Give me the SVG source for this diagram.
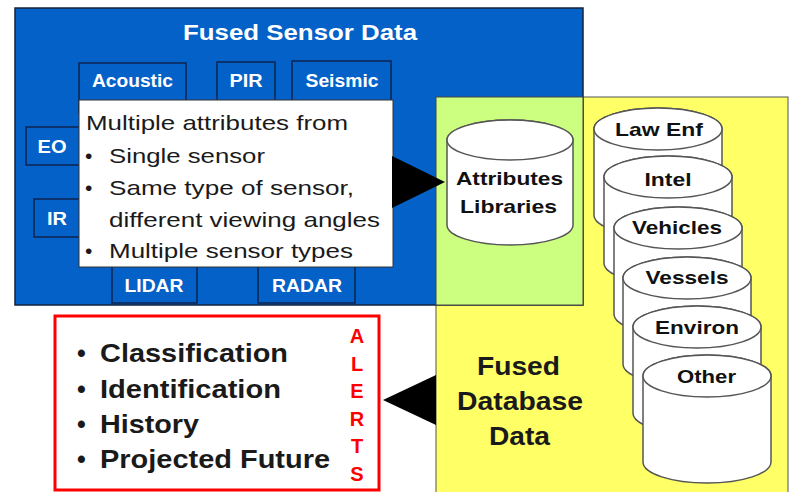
<svg xmlns="http://www.w3.org/2000/svg" width="789" height="492" viewBox="0 0 789 492">
<style>
.sens{fill:#0461C8;stroke:#0d2550;stroke-width:1.5}
.sl{font-family:"Liberation Sans",Arial,sans-serif;font-weight:bold;font-size:18px;fill:#ffffff;text-anchor:middle}
.wt{font-family:"Liberation Sans",Arial,sans-serif;font-size:21px;fill:#1a1a1a}
.cyl{fill:#ffffff;stroke:#555555;stroke-width:1.5}
.cl{font-family:"Liberation Sans",Arial,sans-serif;font-weight:bold;font-size:19px;fill:#111111;text-anchor:middle}
.big{font-family:"Liberation Sans",Arial,sans-serif;font-weight:bold;font-size:25px;fill:#1a1a1a}
.al{font-family:"Liberation Sans",Arial,sans-serif;font-weight:bold;font-size:20px;fill:#ff0000;text-anchor:middle}
</style>
<rect width="789" height="492" fill="#ffffff"/>
<g id="fused-database">
<rect x="436" y="97" width="352" height="400" fill="#FFFF66" stroke="#555555" stroke-width="1"/>
</g>
<g id="fused-sensor-data">
<rect x="15" y="8" width="568" height="297" fill="#0461C8" stroke="#14233f" stroke-width="1.5"/>
<text x="183" y="40" font-family="Liberation Sans, Arial, sans-serif" font-weight="bold" font-size="22" fill="#ffffff" textLength="234" lengthAdjust="spacingAndGlyphs">Fused Sensor Data</text>
</g>
<g id="overlap">
<rect x="436" y="97" width="147" height="208" fill="#CCFF80" stroke="#444444" stroke-width="1"/>
</g>
<g id="sensor-acoustic"><rect class="sens" x="79" y="63" width="107" height="50"/><text class="sl" x="132.5" y="87" textLength="81" lengthAdjust="spacingAndGlyphs">Acoustic</text></g>
<g id="sensor-pir"><rect class="sens" x="217" y="62" width="58" height="50"/><text class="sl" x="246" y="87" textLength="33" lengthAdjust="spacingAndGlyphs">PIR</text></g>
<g id="sensor-seismic"><rect class="sens" x="292" y="61" width="99" height="50"/><text class="sl" x="342" y="87" textLength="73" lengthAdjust="spacingAndGlyphs">Seismic</text></g>
<g id="sensor-eo"><rect class="sens" x="26" y="127" width="70" height="38"/><text class="sl" x="52" y="153" textLength="29" lengthAdjust="spacingAndGlyphs">EO</text></g>
<g id="sensor-ir"><rect class="sens" x="34" y="199" width="62" height="38"/><text class="sl" x="57" y="225" textLength="20" lengthAdjust="spacingAndGlyphs">IR</text></g>
<g id="sensor-lidar"><rect class="sens" x="112" y="250" width="85" height="53"/><text class="sl" x="154" y="292" textLength="59" lengthAdjust="spacingAndGlyphs">LIDAR</text></g>
<g id="sensor-radar"><rect class="sens" x="258" y="250" width="97" height="53"/><text class="sl" x="307" y="292" textLength="70" lengthAdjust="spacingAndGlyphs">RADAR</text></g>
<g id="attributes-box">
<rect x="79" y="100" width="314" height="167" fill="#ffffff" stroke="#333333" stroke-width="1"/>
<text class="wt" x="86" y="130" textLength="262" lengthAdjust="spacingAndGlyphs">Multiple attributes from</text>
<text class="wt" x="85" y="163">•</text>
<text class="wt" x="109" y="163" textLength="156" lengthAdjust="spacingAndGlyphs">Single sensor</text>
<text class="wt" x="85" y="195">•</text>
<text class="wt" x="109" y="195" textLength="245" lengthAdjust="spacingAndGlyphs">Same type of sensor,</text>
<text class="wt" x="109" y="227" textLength="271" lengthAdjust="spacingAndGlyphs">different viewing angles</text>
<text class="wt" x="85" y="258">•</text>
<text class="wt" x="109" y="258" textLength="244" lengthAdjust="spacingAndGlyphs">Multiple sensor types</text>
</g>
<g id="connectors">
<polygon points="392,156 445,182 392,208" fill="#000000"/>
<polygon points="383,400 436,375 436,425" fill="#000000"/>
</g>
<g id="attributes-libraries">
<path class="cyl" d="M447,140 V225 A63,20 0 0 0 573,225 V140 A63,20 0 0 0 447,140 Z"/>
<ellipse class="cyl" cx="510" cy="140" rx="63" ry="20"/>
<text class="cl" x="509.5" y="185" textLength="107" lengthAdjust="spacingAndGlyphs">Attributes</text>
<text class="cl" x="508.5" y="213" textLength="97" lengthAdjust="spacingAndGlyphs">Libraries</text>
</g>
<g id="db-law-enf">
<path class="cyl" d="M594,129 V215 A64,21 0 0 0 722,215 V129 A64,21 0 0 0 594,129 Z"/>
<ellipse class="cyl" cx="658" cy="129" rx="64" ry="21"/>
<text class="cl" x="659" y="136" textLength="88" lengthAdjust="spacingAndGlyphs">Law Enf</text>
</g>
<g id="db-intel">
<path class="cyl" d="M604,177 V263 A64,21 0 0 0 732,263 V177 A64,21 0 0 0 604,177 Z"/>
<ellipse class="cyl" cx="668" cy="177" rx="64" ry="21"/>
<text class="cl" x="668" y="186" textLength="47" lengthAdjust="spacingAndGlyphs">Intel</text>
</g>
<g id="db-vehicles">
<path class="cyl" d="M614,228 V314 A64,21 0 0 0 742,314 V228 A64,21 0 0 0 614,228 Z"/>
<ellipse class="cyl" cx="678" cy="228" rx="64" ry="21"/>
<text class="cl" x="677" y="234" textLength="90" lengthAdjust="spacingAndGlyphs">Vehicles</text>
</g>
<g id="db-vessels">
<path class="cyl" d="M623,278 V364 A64,21 0 0 0 751,364 V278 A64,21 0 0 0 623,278 Z"/>
<ellipse class="cyl" cx="687" cy="278" rx="64" ry="21"/>
<text class="cl" x="687" y="284" textLength="83" lengthAdjust="spacingAndGlyphs">Vessels</text>
</g>
<g id="db-environ">
<path class="cyl" d="M633,327 V413 A64,21 0 0 0 761,413 V327 A64,21 0 0 0 633,327 Z"/>
<ellipse class="cyl" cx="697" cy="327" rx="64" ry="21"/>
<text class="cl" x="697" y="334" textLength="84" lengthAdjust="spacingAndGlyphs">Environ</text>
</g>
<g id="db-other">
<path class="cyl" d="M643,376 V462 A64,21 0 0 0 771,462 V376 A64,21 0 0 0 643,376 Z"/>
<ellipse class="cyl" cx="707" cy="376" rx="64" ry="21"/>
<text class="cl" x="706.5" y="383" textLength="59" lengthAdjust="spacingAndGlyphs">Other</text>
</g>
<g id="fused-database-label">
<text class="big" x="518.5" y="375" text-anchor="middle" textLength="83" lengthAdjust="spacingAndGlyphs">Fused</text>
<text class="big" x="520" y="410" text-anchor="middle" textLength="126" lengthAdjust="spacingAndGlyphs">Database</text>
<text class="big" x="519.5" y="445" text-anchor="middle" textLength="61" lengthAdjust="spacingAndGlyphs">Data</text>
</g>
<g id="alerts-box">
<rect x="55" y="316" width="324" height="174" fill="#ffffff" stroke="#ff0000" stroke-width="3"/>
<text class="big" x="77" y="362">•</text>
<text class="big" x="100" y="362" textLength="188" lengthAdjust="spacingAndGlyphs">Classification</text>
<text class="big" x="77" y="398">•</text>
<text class="big" x="100" y="398" textLength="181" lengthAdjust="spacingAndGlyphs">Identification</text>
<text class="big" x="77" y="433">•</text>
<text class="big" x="100" y="433" textLength="99" lengthAdjust="spacingAndGlyphs">History</text>
<text class="big" x="77" y="468">•</text>
<text class="big" x="100" y="468" textLength="230" lengthAdjust="spacingAndGlyphs">Projected Future</text>
<text class="al" x="357" y="343">A</text>
<text class="al" x="357" y="370.5">L</text>
<text class="al" x="357" y="398">E</text>
<text class="al" x="357" y="425.5">R</text>
<text class="al" x="357" y="453">T</text>
<text class="al" x="357" y="480.5">S</text>
</g>
</svg>
